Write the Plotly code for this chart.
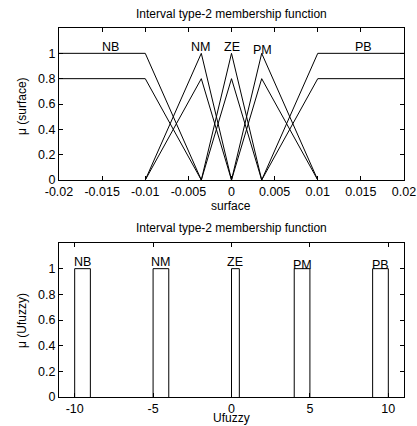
import plotly.graph_objects as go

# ---------------- data: top panel (input "surface") ----------------
surface_ticks = [-0.02, -0.015, -0.01, -0.005, 0, 0.005, 0.01, 0.015, 0.02]
surface_ticktext = ["-0.02", "-0.015", "-0.01", "-0.005", "0", "0.005", "0.01", "0.015", "0.02"]
mu_ticks = [0, 0.2, 0.4, 0.6, 0.8, 1]
mu_ticktext = ["0", "0.2", "0.4", "0.6", "0.8", "1"]

nb_x = [-0.02, -0.01, -0.0035]
nb_upper = [1, 1, 0]
nb_lower = [0.8, 0.8, 0]
nm_x = [-0.01, -0.0035, 0]
ze_x = [-0.0035, 0, 0.0035]
pm_x = [0, 0.0035, 0.01]
tri_upper = [0, 1, 0]
tri_lower = [0, 0.8, 0]
pb_x = [0.0035, 0.01, 0.02]
pb_upper = [0, 1, 1]
pb_lower = [0, 0.8, 0.8]

surface_labels = ["NB", "NM", "ZE", "PM", "PB"]
surface_label_x = [-0.014, -0.0036, 0.0, 0.0036, 0.0153]
surface_label_y = [1.05, 1.05, 1.05, 1.03, 1.05]

# ---------------- data: bottom panel (output "Ufuzzy") ----------------
ufuzzy_ticks = [-10, -5, 0, 5, 10]
ufuzzy_ticktext = ["-10", "-5", "0", "5", "10"]
u_left = [-10, -5, 0, 4, 9]
u_right = [-9, -4, 0.5, 5, 10]
u_height = [1, 1, 1, 1, 1]
ufuzzy_labels = ["NB", "NM", "ZE", "PM", "PB"]
ufuzzy_label_x = [-9.5, -4.5, 0.25, 4.5, 9.5]
ufuzzy_label_y = [1.05, 1.05, 1.055, 1.03, 1.03]

FONT = "Arial, Liberation Sans, sans-serif"
W, H = 417, 426
line = dict(color="black", width=1)

fig = go.Figure()

top_curves = [
    (nb_x, nb_upper), (nb_x, nb_lower),
    (nm_x, tri_upper), (nm_x, tri_lower),
    (ze_x, tri_upper), (ze_x, tri_lower),
    (pm_x, tri_upper), (pm_x, tri_lower),
    (pb_x, pb_upper), (pb_x, pb_lower),
]
for xs, ys in top_curves:
    fig.add_trace(go.Scatter(x=xs, y=ys, mode="lines", line=line,
                             xaxis="x", yaxis="y", showlegend=False, hoverinfo="skip"))

for l, r, h in zip(u_left, u_right, u_height):
    fig.add_trace(go.Scatter(x=[l, l, r, r], y=[0, h, h, 0], mode="lines", line=line,
                             xaxis="x2", yaxis="y2", showlegend=False, hoverinfo="skip"))

# page px -> paper helpers (figure margins are zero, page margin removed)
def px_x(p):
    return p / W

def px_y(p):
    return 1 - p / H

axis_common = dict(showline=True, linecolor="black", linewidth=1, mirror="ticks",
                   ticks="inside", ticklen=4, tickcolor="black", tickwidth=1,
                   showgrid=False, zeroline=False, automargin=False,
                   ticklabeloverflow="allow",
                   tickfont=dict(family=FONT, size=12.5, color="black"))

fig.update_layout(
    width=W, height=H,
    margin=dict(l=0, r=0, t=0, b=0),
    paper_bgcolor="white", plot_bgcolor="white",
    font=dict(family=FONT, color="black"),
    hovermode=False,
    xaxis=dict(domain=[px_x(59), px_x(404)], range=[-0.02, 0.02], anchor="y",
               tickvals=surface_ticks, ticktext=surface_ticktext, **axis_common),
    yaxis=dict(domain=[px_y(180), px_y(28)], range=[0, 1.2], anchor="x",
               tickvals=mu_ticks, ticktext=mu_ticktext, **axis_common),
    xaxis2=dict(domain=[px_x(59), px_x(404)], range=[-11, 11], anchor="y2",
                tickvals=ufuzzy_ticks, ticktext=ufuzzy_ticktext, **axis_common),
    yaxis2=dict(domain=[px_y(397), px_y(243)], range=[0, 1.2], anchor="x2",
                tickvals=mu_ticks, ticktext=mu_ticktext, **axis_common),
)

ann = []
for t, x, y in zip(surface_labels, surface_label_x, surface_label_y):
    ann.append(dict(x=x, y=y, xref="x", yref="y", text=t, showarrow=False,
                    xanchor="center", yanchor="middle",
                    font=dict(family=FONT, size=12.5, color="black")))
for t, x, y in zip(ufuzzy_labels, ufuzzy_label_x, ufuzzy_label_y):
    ann.append(dict(x=x, y=y, xref="x2", yref="y2", text=t, showarrow=False,
                    xanchor="center", yanchor="middle",
                    font=dict(family=FONT, size=12.5, color="black")))

title_font = dict(family=FONT, size=12, color="black")
label_font = dict(family=FONT, size=12, color="black")
paper_texts = [
    (231, 14, "Interval type-2 membership function", 0, title_font),
    (231, 206, "surface", 0, label_font),
    (22, 106, "μ (surface)", -90, label_font),
    (231, 228, "Interval type-2 membership function", 0, title_font),
    (231, 418, "Ufuzzy", 0, label_font),
    (22, 321, "μ (Ufuzzy)", -90, label_font),
]
for px, py, t, ang, f in paper_texts:
    ann.append(dict(x=px_x(px), y=px_y(py), xref="paper", yref="paper", showarrow=False,
                    xanchor="center", yanchor="middle", text=t, textangle=ang, font=f))
fig.update_layout(annotations=ann)

fig.write_html("out.html", config={"displayModeBar": False, "staticPlot": True},
               post_script="document.body.style.margin='0';document.body.style.overflow='hidden';")
